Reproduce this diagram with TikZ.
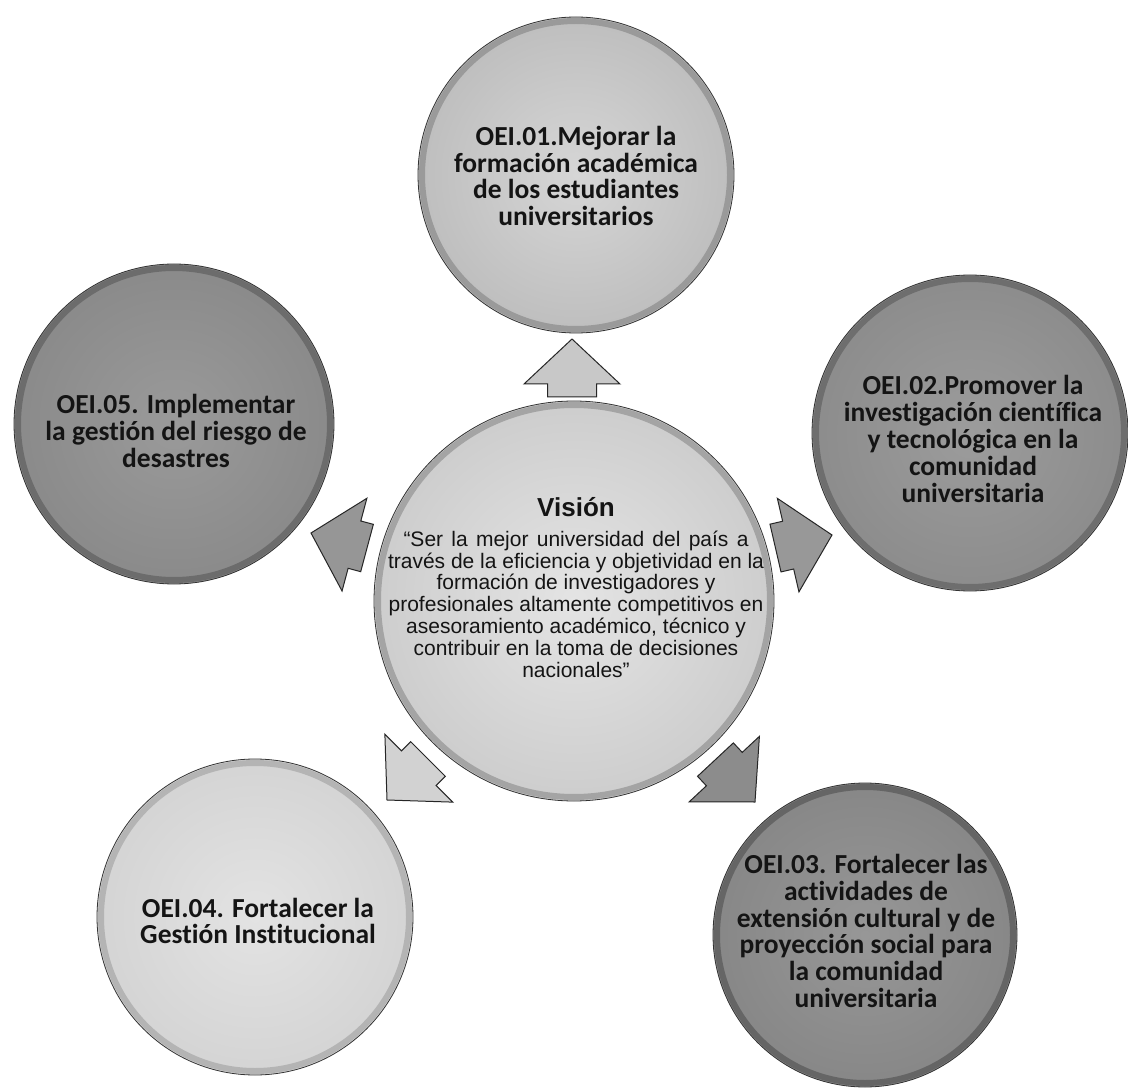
\documentclass[tikz,border=0pt]{standalone}
\usepackage{fontspec}
\setmainfont{Liberation Sans}
\newfontfamily\calib[Ligatures={NoCommon,NoRequired,NoContextual}]{Carlito}
\newcommand{\oeifont}{\calib\bfseries\fontsize{27.5pt}{26.8pt}\selectfont}
\definecolor{tIn}{HTML}{D6D6D6}\definecolor{tOut}{HTML}{BEBEBE}\definecolor{tRing}{HTML}{9A9A9A}
\definecolor{cIn}{HTML}{E4E4E4}\definecolor{cOut}{HTML}{CDCDCD}\definecolor{cRing}{HTML}{A4A4A4}
\definecolor{lIn}{HTML}{9A9A9A}\definecolor{lOut}{HTML}{8A8A8A}\definecolor{lRing}{HTML}{6C6C6C}
\definecolor{rIn}{HTML}{9C9C9C}\definecolor{rOut}{HTML}{8C8C8C}\definecolor{rRing}{HTML}{6E6E6E}
\definecolor{blIn}{HTML}{E3E3E3}\definecolor{blOut}{HTML}{D4D4D4}\definecolor{blRing}{HTML}{B4B4B4}
\definecolor{brIn}{HTML}{979797}\definecolor{brOut}{HTML}{878787}\definecolor{brRing}{HTML}{656565}
\definecolor{aUp}{HTML}{C8C8C8}\definecolor{aL}{HTML}{969696}\definecolor{aR}{HTML}{989898}
\definecolor{aBL}{HTML}{D2D2D2}\definecolor{aBR}{HTML}{8C8C8C}
\begin{document}
\begin{tikzpicture}[x=1pt,y=-1pt,
  bub/.style={circle, inner sep=0pt, draw=black!80, line width=0.8pt},
  oei/.style={align=center, text=black!92, font=\oeifont, inner sep=0pt},
  ringline/.style={line width=6pt, draw=#1},
  blockarrow/.pic={\path[pic actions] (0,0) -- (-45,-48) -- (-45,-24.5) -- (-58,-24.5) -- (-58,24.5) -- (-45,24.5) -- (-45,48) -- cycle;},
  arr/.style={fill=#1, draw=black!85, line width=1pt, line join=miter}
]
\useasboundingbox[fill=white] (0,0) rectangle (1128,1091);

% arrows
\pic[arr=aUp, rotate=90] at (572,339) {blockarrow};
\pic[arr=aR, rotate=13] at (832,535) {blockarrow};
\pic[arr=aL, rotate=165] at (311,533) {blockarrow};
\pic[arr=aBL, rotate=-135] at (387,800) {blockarrow};
\pic[arr=aBR, rotate=-47] at (755,802) {blockarrow};

% outer circles
\node[bub, minimum size=316pt, inner color=tIn, outer color=tOut] (T) at (576,175) {};
\draw[ringline=tRing] (T.center) circle[radius=154];
\node[oei] (tT) at (576,176)
  {OEI.01.Mejorar la\\formación académica\\de los estudiantes\\universitarios};

\node[bub, minimum size=316pt, inner color=rIn, outer color=rOut] (R) at (970,433) {};
\draw[ringline=rRing] (R.center) circle[radius=154];
\node[oei] (tR) at (973,439)
  {OEI.02.Promover la\\investigación científica\\y tecnológica en la\\comunidad\\universitaria};

\node[bub, minimum size=320pt, inner color=lIn, outer color=lOut] (L) at (174,424) {};
\draw[ringline=lRing] (L.center) circle[radius=156];
\node[oei] (tL) at (176,431)
  {OEI.05. Implementar\\la gestión del riesgo de\\desastres};

\node[bub, minimum size=316pt, inner color=blIn, outer color=blOut] (BL) at (255,917) {};
\draw[ringline=blRing] (BL.center) circle[radius=154];
\node[oei] (tBL) at (258,921)
  {OEI.04. Fortalecer la\\Gestión Institucional};

\node[bub, minimum size=304pt, inner color=brIn, outer color=brOut] (BR) at (865,935) {};
\draw[ringline=brRing] (BR.center) circle[radius=148];
\node[oei] (tBR) at (866,931)
  {OEI.03. Fortalecer las\\actividades de\\extensión cultural y de\\proyección social para\\la comunidad\\universitaria};

% central circle
\node[bub, minimum size=400pt, inner color=cIn, outer color=cOut] (C) at (574,601) {};
\draw[ringline=cRing] (C.center) circle[radius=196];
\node[text=black!92, font=\bfseries\fontsize{26pt}{30pt}\selectfont] (vt) at (576,507) {Visión};
\node[text=black!92, align=center, font=\fontsize{21pt}{21.8pt}\selectfont] (vb) at (576,604)
  {\makebox[345pt][s]{“Ser la mejor universidad del país a}\\
   través de la eficiencia y objetividad en la\\
   formación de investigadores y\\
   profesionales altamente competitivos en\\
   asesoramiento académico, técnico y\\
   contribuir en la toma de decisiones\\
   nacionales”};
\end{tikzpicture}
\end{document}
